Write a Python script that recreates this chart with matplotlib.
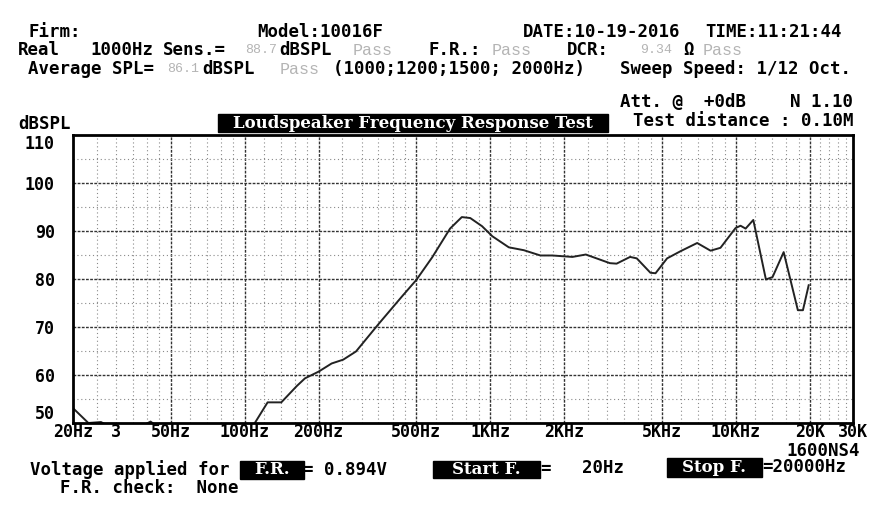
import matplotlib.pyplot as plt
from matplotlib.patches import Rectangle

# curve
freq_hz = [20, 23.1, 26, 30, 37, 41.4, 46, 60, 80, 100, 110, 124, 141, 163, 176,
           200, 226, 252, 284, 352, 436, 500, 580, 686, 766, 829, 926, 1020,
           1190, 1370, 1600, 1790, 2160, 2450, 3070, 3270, 3710, 3950, 4490,
           4710, 5250, 5960, 6960, 7890, 8660, 9970, 10450, 10960, 11780,
           13260, 14110, 15660, 17890, 18760, 19800]
spl_db = [53.1, 50.0, 50.2, 48.5, 49.0, 50.3, 48.5, 45.5, 45.0, 47.5, 50.0, 54.3,
          54.3, 57.7, 59.3, 60.7, 62.4, 63.2, 64.9, 70.7, 76.3, 79.8, 84.5,
          90.5, 92.9, 92.7, 91.0, 88.9, 86.6, 86.0, 84.9, 84.9, 84.6, 85.1,
          83.3, 83.2, 84.6, 84.3, 81.3, 81.2, 84.3, 85.8, 87.5, 85.9, 86.5,
          90.6, 91.1, 90.5, 92.3, 79.9, 80.4, 85.6, 73.5, 73.5, 78.7]

major_freqs = [50, 100, 200, 500, 1000, 2000, 5000, 10000, 20000]
minor_freqs = [25, 30, 35, 40, 45, 60, 70, 80, 90, 120, 140, 160, 180,
               250, 300, 350, 400, 450, 600, 700, 800, 900,
               1200, 1400, 1600, 1800, 2500, 3000, 3500, 4000, 4500,
               6000, 7000, 8000, 9000, 12000, 14000, 16000, 18000,
               22000, 24000, 26000, 28000]
major_db = [60, 70, 80, 90, 100]
minor_db = [55, 65, 75, 85, 95, 105]

xtick_freqs = [20, 30, 50, 100, 200, 500, 1000, 2000, 5000, 10000, 20000, 30000]
xtick_labels = ['20Hz', '3', '50Hz', '100Hz', '200Hz', '500Hz', '1KHz', '2KHz',
                '5KHz', '10KHz', '20K', '30K']
ytick_vals = [50, 60, 70, 80, 90, 100, 110]

W, H = 880, 507
dos = dict(family='DejaVu Sans Mono', weight='bold', size=12.5, color='black')
boxed = dict(family='DejaVu Serif', weight='bold', size=12)
grey = dict(family='Liberation Mono', size=12, color='#b4b4b4')
grey_num = dict(family='Liberation Mono', size=9.5, color='#b4b4b4')

fig = plt.figure(figsize=(W / 100, H / 100), dpi=100)
ax = fig.add_axes([73 / W, 1 - 423 / H, (853 - 73) / W, (423 - 135) / H])

for f in minor_freqs:
    ax.axvline(f, color='#8a8a8a', lw=0.8, ls=(0, (1, 2.5)))
for f in major_freqs:
    ax.axvline(f, color='#333333', lw=1.0, ls=(0, (2, 1)))
for d in minor_db:
    ax.axhline(d, color='#8a8a8a', lw=0.8, ls=(0, (1, 2.5)))
for d in major_db:
    ax.axhline(d, color='#333333', lw=1.0, ls=(0, (2, 1)))

ax.plot(freq_hz, spl_db, color='#222222', lw=1.4)

ax.set_xscale('log')
ax.set_xlim(20, 30000)
ax.set_ylim(50, 110)
ax.minorticks_off()
ax.set_xticks(xtick_freqs)
ax.set_xticklabels(xtick_labels)
ax.set_yticks(ytick_vals)
ax.set_yticklabels([str(v) for v in ytick_vals])
ax.tick_params(length=0)
ax.tick_params(axis='x', pad=0)
ax.tick_params(axis='y', pad=13)
for lab in ax.get_xticklabels() + ax.get_yticklabels():
    lab.set_fontfamily('DejaVu Sans Mono')
    lab.set_fontweight('bold')
    lab.set_fontsize(12)
ylabs = ax.get_yticklabels()
ylabs[0].set_verticalalignment('bottom')
ylabs[-1].set_verticalalignment('top')
for s in ax.spines.values():
    s.set_linewidth(2)


def ftext(x, y, s, **kw):
    fig.text(x / W, 1 - y / H, s, va='center', **kw)


def fbox(x0, y0, x1, y1):
    fig.patches.append(Rectangle((x0 / W, 1 - y1 / H), (x1 - x0) / W, (y1 - y0) / H,
                                 transform=fig.transFigure, color='black'))


# header
ftext(28, 32, 'Firm:', **dos)
ftext(257, 32, 'Model:10016F', **dos)
ftext(523, 32, 'DATE:10-19-2016', **dos)
ftext(705, 32, 'TIME:11:21:44', **dos)

ftext(18, 50, 'Real', **dos)
ftext(90, 50, '1000Hz', **dos)
ftext(163, 50, 'Sens.=', **dos)
ftext(245, 50, '88.7', **grey_num)
ftext(279, 50, 'dBSPL', **dos)
ftext(353, 50, 'Pass', **grey)
ftext(428, 50, 'F.R.:', **dos)
ftext(492, 50, 'Pass', **grey)
ftext(567, 50, 'DCR:', **dos)
ftext(640, 50, '9.34', **grey_num)
ftext(683, 50, 'Ω', **dos)
ftext(703, 50, 'Pass', **grey)

ftext(28, 69, 'Average SPL=', **dos)
ftext(167, 69, '86.1', **grey_num)
ftext(202, 69, 'dBSPL', **dos)
ftext(280, 69, 'Pass', **grey)
ftext(333, 69, '(1000;1200;1500; 2000Hz)', **dos)
ftext(620, 69, 'Sweep Speed: 1/12 Oct.', **dos)

ftext(620, 102, 'Att. @  +0dB', **dos)
ftext(790, 102, 'N 1.10', **dos)
ftext(18, 124, 'dBSPL', **dos)
fbox(218, 114, 608, 132)
ftext(413, 123, 'Loudspeaker Frequency Response Test', ha='center', color='white', **boxed)
ftext(633, 121, 'Test distance : 0.10M', **dos)

# footer
ftext(786, 451, '1600NS4', **dos)
ftext(30, 470, 'Voltage applied for', **dos)
fbox(240, 461, 304, 479)
ftext(272, 470, 'F.R.', ha='center', color='white', **boxed)
ftext(303, 470, '= 0.894V', **dos)
fbox(433, 461, 540, 478)
ftext(486, 469, 'Start F.', ha='center', color='white', **boxed)
ftext(540, 469, '=', **dos)
ftext(582, 468, '20Hz', **dos)
fbox(667, 458, 762, 477)
ftext(714, 467, 'Stop F.', ha='center', color='white', **boxed)
ftext(762, 467, '=20000Hz', **dos)
ftext(60, 488, 'F.R. check:  None', **dos)

fig.savefig('out.png', dpi=100, facecolor='white')
